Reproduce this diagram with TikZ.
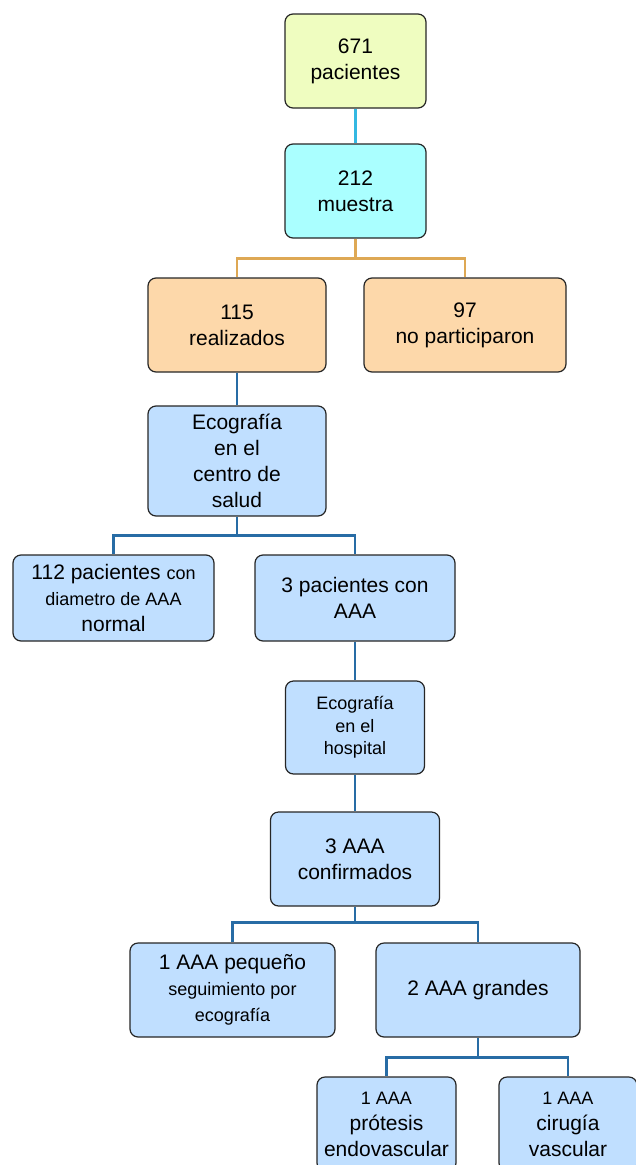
\documentclass[tikz,border=0pt]{standalone}
\usepackage{fontspec}
\setmainfont{Liberation Sans}
\definecolor{amarillo}{RGB}{239,253,192}
\definecolor{cian}{RGB}{170,255,255}
\definecolor{durazno}{RGB}{253,216,170}
\definecolor{azul}{RGB}{192,223,255}
\definecolor{lcian}{RGB}{52,184,226}
\definecolor{lnaranja}{RGB}{222,168,84}
\definecolor{lazul}{RGB}{40,108,165}
\begin{document}
\begin{tikzpicture}[x=1pt,y=-1pt]
  \def\grande{\fontsize{21}{26}\selectfont}
  \def\chico{\fontsize{18}{22.5}\selectfont}
  \tikzset{
    caja/.style args={#1 by #2}{draw=black!85, line width=1.2pt, rounded corners=8pt,
      fill=azul, minimum width=#1pt, minimum height=#2pt, inner sep=0pt,
      align=center, font=\grande},
    linea/.style={line width=2.8pt, draw=#1},
  }
  \useasboundingbox (0,0) rectangle (635,1165);
  \node[caja=141 by 94, fill=amarillo] (pac) at (355.5,61) {671\\pacientes};
  \node[caja=141 by 94, fill=cian] (mue) at (355.5,191) {212\\muestra};
  \node[caja=178 by 94, fill=durazno] (rea) at (237,325) {115\\realizados};
  \node[caja=202 by 94, fill=durazno] (nop) at (465,325) {97\\no participaron};
  \node[caja=178 by 110] (cen) at (237,461) {Ecografía\\en el\\centro de\\salud};
  \node[caja=201 by 86] (nor) at (113.5,598)
    {112 pacientes {\chico con}\\{\chico diametro de AAA}\\normal};
  \node[caja=200 by 86] (con) at (355,598) {3 pacientes con\\AAA};
  \node[caja=139 by 93, font=\chico] (hos) at (355,727.5) {Ecografía\\en el\\hospital};
  \node[caja=169 by 94] (cnf) at (355,859) {3 AAA\\confirmados};
  \node[caja=205 by 94] (peq) at (232.5,990)
    {1 AAA pequeño\\{\chico seguimiento por}\\{\chico ecografía}};
  \node[caja=204 by 94] (gra) at (478,990) {2 AAA grandes};
  \node[caja=139 by 94] (pro) at (386.5,1124) {{\chico 1 AAA}\\prótesis\\endovascular};
  \node[caja=138 by 94] (cir) at (568,1124) {{\chico 1 AAA}\\cirugía\\vascular};
  % lineas
  \draw[linea=lcian] (pac) -- (mue);
  \draw[linea=lnaranja] (mue.south) -- ++(0,20) -| (rea.north);
  \draw[linea=lnaranja] (mue.south) -- ++(0,20) -| (nop.north);
  \draw[linea=lazul] (rea) -- (cen);
  \draw[linea=lazul] (cen.south) -- ++(0,19) -| (nor.north);
  \draw[linea=lazul] (cen.south) -- ++(0,19) -| (con.north);
  \draw[linea=lazul] (con) -- (hos);
  \draw[linea=lazul] (hos) -- (cnf);
  \draw[linea=lazul] (cnf.south) -- ++(0,16) -| (peq.north);
  \draw[linea=lazul] (cnf.south) -- ++(0,16) -| (gra.north);
  \draw[linea=lazul] (gra.south) -- ++(0,20) -| (pro.north);
  \draw[linea=lazul] (gra.south) -- ++(0,20) -| (cir.north);
\end{tikzpicture}
\end{document}
